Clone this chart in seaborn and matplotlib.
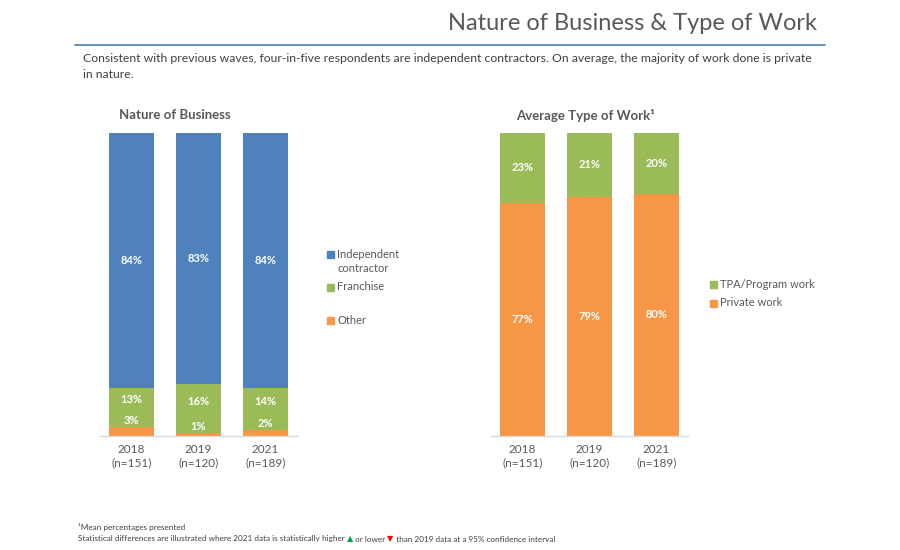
import matplotlib
matplotlib.use("Agg")
import matplotlib.pyplot as plt
from matplotlib.patches import Rectangle
from matplotlib.lines import Line2D
import seaborn as sns
import pandas as pd
import numpy as np

# ---- data ----
years = ["2018\n(n=151)", "2019\n(n=120)", "2021\n(n=189)"]
independent = [84, 83, 84]
franchise = [13, 16, 14]
other = [3, 1, 2]
tpa = [23, 21, 20]
private = [77, 79, 80]

BLUE = "#4F81BD"
GREEN = "#9BBB59"
ORANGE = "#F79646"
GRAY = "#595959"

sns.set_theme(style="white")
plt.rcParams["font.family"] = ["Lato", "DejaVu Sans"]

W, H = 900, 550
fig = plt.figure(figsize=(9, 5.5), dpi=100)


def fx(px):
    return px / W


def fy(py):
    return 1 - py / H


def make_ax(x0, x1):
    return fig.add_axes([fx(x0), fy(436), fx(x1) - fx(x0), fy(133) - fy(436)])


def style_ax(ax):
    ax.set_ylim(0, 100)
    ax.set_xlim(-0.47, 2.47)
    for s in ["top", "right", "left"]:
        ax.spines[s].set_visible(False)
    ax.spines["bottom"].set_color("#D9D9D9")
    ax.spines["bottom"].set_linewidth(1)
    ax.set_yticks([])
    ax.set_xlabel("")
    ax.set_ylabel("")
    ax.tick_params(axis="x", length=0, labelsize=8.5, labelcolor=GRAY, pad=6)


bar_kw = dict(saturation=1, width=0.66, edgecolor="none", linewidth=0)

# ---- left panel ----
ax1 = make_ax(100, 297)
df1 = pd.DataFrame({"year": years,
                    "total": np.array(independent) + np.array(franchise) + np.array(other),
                    "fo": np.array(franchise) + np.array(other),
                    "o": other})
sns.barplot(data=df1, x="year", y="total", color=BLUE, ax=ax1, **bar_kw)
sns.barplot(data=df1, x="year", y="fo", color=GREEN, ax=ax1, **bar_kw)
sns.barplot(data=df1, x="year", y="o", color=ORANGE, ax=ax1, **bar_kw)
style_ax(ax1)

lab_kw = dict(ha="center", va="center", color="white", fontsize=8, fontweight="bold")
for i in range(3):
    o, f, ind = other[i], franchise[i], independent[i]
    ax1.text(i, o + f + ind / 2, f"{ind}%", **lab_kw)
    ax1.text(i, o + f / 2 + 2.5, f"{f}%", **lab_kw)
    ax1.text(i, o + 2, f"{o}%", **lab_kw)

# ---- right panel ----
ax2 = make_ax(491, 688)
df2 = pd.DataFrame({"year": years,
                    "total": np.array(tpa) + np.array(private),
                    "p": private})
sns.barplot(data=df2, x="year", y="total", color=GREEN, ax=ax2, **bar_kw)
sns.barplot(data=df2, x="year", y="p", color=ORANGE, ax=ax2, **bar_kw)
style_ax(ax2)
for i in range(3):
    ax2.text(i, private[i] + tpa[i] / 2, f"{tpa[i]}%", **lab_kw)
    ax2.text(i, private[i] / 2, f"{private[i]}%", **lab_kw)

# ---- titles ----
fig.text(fx(817), fy(23), "Nature of Business & Type of Work", ha="right", va="center",
         fontsize=17, color=GRAY)
fig.add_artist(Line2D([fx(75), fx(825)], [fy(45), fy(45)], color="#4A7EBB", lw=1.2))
fig.text(fx(83), fy(58), "Consistent with previous waves, four-in-five respondents are independent "
         "contractors. On average, the majority of work done is private", ha="left", va="center",
         fontsize=8.8, color="#404040")
fig.text(fx(83), fy(74), "in nature.", ha="left", va="center", fontsize=8.8, color="#404040")

fig.text(fx(175), fy(115), "Nature of Business", ha="center", va="center", fontsize=9.5,
         fontweight="bold", color=GRAY)
fig.text(fx(585), fy(115), "Average Type of Work\u00b9", ha="center", va="center", fontsize=9.5,
         fontweight="bold", color=GRAY)


# ---- legends (manual) ----
def legend_multi(px, py, color, lines):
    s = 7
    fig.add_artist(Rectangle((fx(px - 3.5), fy(py + 3.5)), s / W, s / H, color=color,
                             transform=fig.transFigure))
    for k, ln in enumerate(lines):
        fig.text(fx(px + 7), fy(py + 14 * k), ln, ha="left", va="center", fontsize=8, color=GRAY)


legend_multi(330, 254, BLUE, ["Independent", "contractor"])
legend_multi(330, 287, GREEN, ["Franchise"])
legend_multi(330, 320, ORANGE, ["Other"])
legend_multi(713, 284, GREEN, ["TPA/Program work"])
legend_multi(713, 303, ORANGE, ["Private work"])

# ---- footnotes ----
fs = 5.9
fig.text(fx(78), fy(527), "\u00b9Mean percentages presented", ha="left", va="center",
         fontsize=fs, color="#404040")
t1 = fig.text(fx(78), fy(539), "Statistical differences are illustrated where 2021 data is "
              "statistically higher ", ha="left", va="center", fontsize=fs, color="#404040")
t2 = fig.text(0, 0, "\u25B2", fontsize=fs, color="#00A651", family=["DejaVu Sans"])
t3 = fig.text(0, 0, " or lower ", fontsize=fs, color="#404040")
t4 = fig.text(0, 0, "\u25BC", fontsize=fs, color="#FF0000", family=["DejaVu Sans"])
t5 = fig.text(0, 0, " than 2019 data at a 95% confidence interval", fontsize=fs, color="#404040")

fig.canvas.draw()
r = fig.canvas.get_renderer()
prev = t1
for t in [t2, t3, t4, t5]:
    bb = prev.get_window_extent(renderer=r)
    t.set_position((bb.x1 / fig.bbox.width, fy(539)))
    t.set_va("center")
    t.set_ha("left")
    prev = t

fig.savefig("out.png", dpi=100, facecolor="white")
